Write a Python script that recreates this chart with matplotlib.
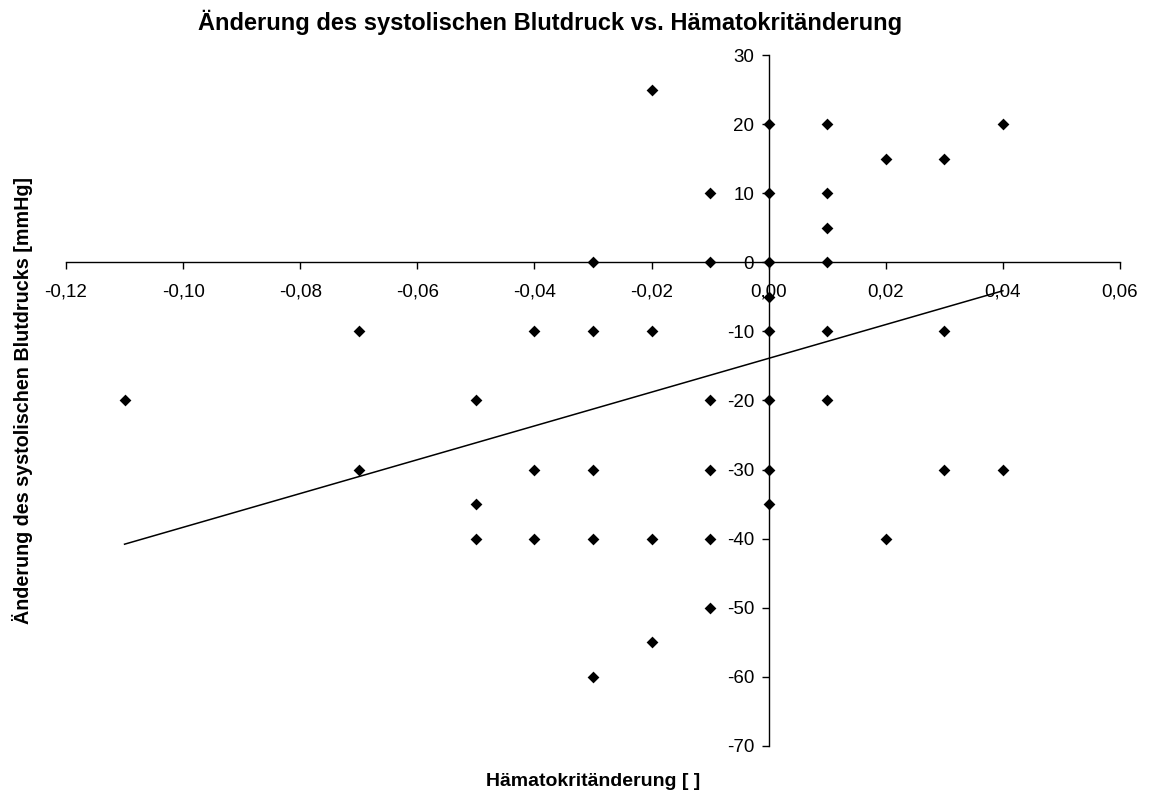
import numpy as np
import matplotlib
matplotlib.use("Agg")
import matplotlib.pyplot as plt
from matplotlib.ticker import FuncFormatter, MultipleLocator

plt.rcParams['font.family'] = ['Liberation Sans', 'DejaVu Sans']

# Data: change in hematocrit vs change in systolic blood pressure
hkt_change = [-0.11,
              -0.07, -0.07,
              -0.05, -0.05, -0.05,
              -0.04, -0.04, -0.04,
              -0.03, -0.03, -0.03, -0.03, -0.03,
              -0.02, -0.02, -0.02, -0.02,
              -0.01, -0.01, -0.01, -0.01, -0.01, -0.01,
              0.00, 0.00, 0.00, 0.00, 0.00, 0.00, 0.00, 0.00,
              0.01, 0.01, 0.01, 0.01, 0.01, 0.01,
              0.02, 0.02,
              0.03, 0.03, 0.03,
              0.04, 0.04]
bp_change = [-20,
             -10, -30,
             -20, -35, -40,
             -10, -30, -40,
             0, -10, -30, -40, -60,
             25, -10, -40, -55,
             10, 0, -20, -30, -40, -50,
             20, 10, 0, -5, -10, -20, -30, -35,
             20, 10, 5, 0, -10, -20,
             15, -40,
             15, -10, -30,
             20, -30]

# linear trendline
trend_slope = 244.5
trend_intercept = -13.9

title = "Änderung des systolischen Blutdruck vs. Hämatokritänderung"
xlabel = "Hämatokritänderung [ ]"
ylabel = "Änderung des systolischen Blutdrucks [mmHg]"

fig = plt.figure(figsize=(11.52, 8.0), dpi=100)
ax = fig.add_axes([66/1152, 1-746/800, (1120-66)/1152, (746-55)/800])

x = np.array(hkt_change)
y = np.array(bp_change)
ax.scatter(x, y, marker='D', s=36, color='black', zorder=3, linewidths=0)

xs = np.array([x.min(), x.max()])
ax.plot(xs, trend_slope*xs + trend_intercept, color='black', lw=1.1, zorder=2)

ax.set_xlim(-0.12, 0.06)
ax.set_ylim(-70, 30)
ax.xaxis.set_major_locator(MultipleLocator(0.02))
ax.yaxis.set_major_locator(MultipleLocator(10))
ax.xaxis.set_major_formatter(FuncFormatter(lambda v, p: f"{v:.2f}".replace('.', ',').replace('-0,00', '0,00')))
ax.yaxis.set_major_formatter(FuncFormatter(lambda v, p: f"{v:.0f}"))

for s in ['top', 'right']:
    ax.spines[s].set_visible(False)
ax.spines['left'].set_position(('data', 0))
ax.spines['bottom'].set_position(('data', 0))
ax.spines['left'].set_linewidth(1.0)
ax.spines['bottom'].set_linewidth(1.0)
ax.tick_params(axis='both', direction='out', length=5, width=1, labelsize=13.5, colors='black')
ax.tick_params(axis='x', pad=10.5)
ax.tick_params(axis='y', pad=5.5)

fig.text(550/1152, 1-22/800, title, ha='center', va='center', fontsize=17, fontweight='bold')
fig.text(593/1152, 1-782/800, xlabel, ha='center', va='center', fontsize=14, fontweight='bold')
fig.text(23/1152, 1-400/800, ylabel, ha='center', va='center', fontsize=14.2, fontweight='bold', rotation=90)

fig.savefig("out.png", dpi=100)
